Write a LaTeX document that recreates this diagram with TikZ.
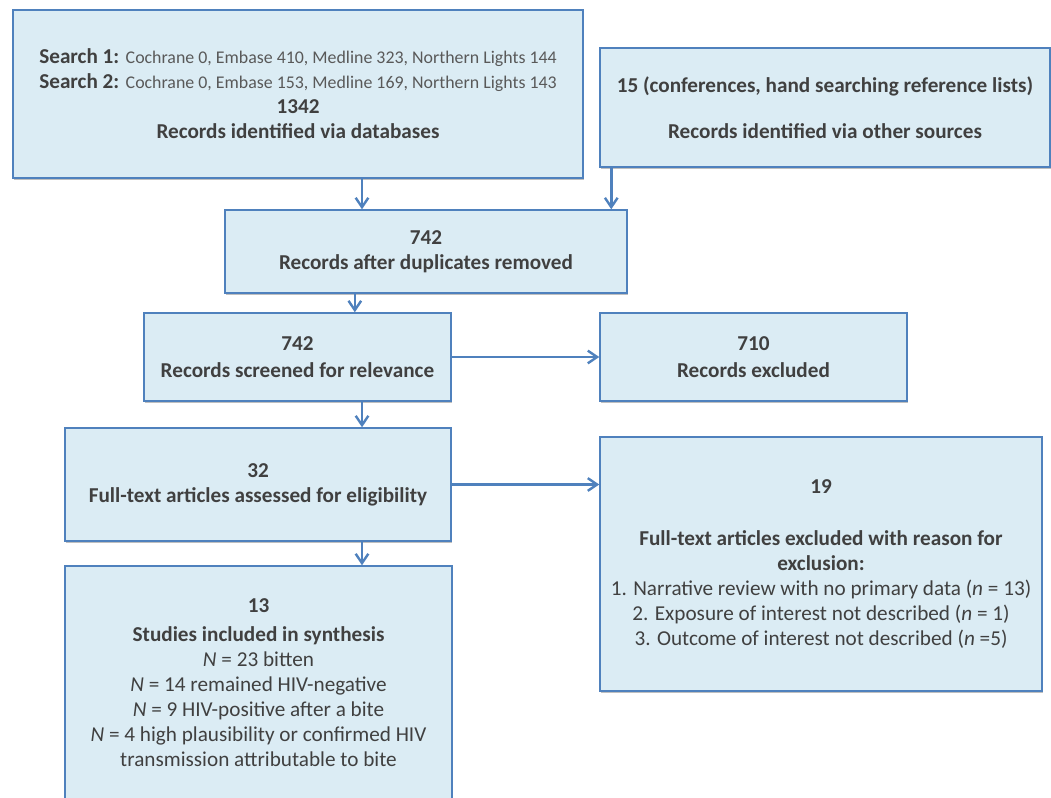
\documentclass[tikz,border=0pt]{standalone}
\usepackage{fontspec}
\setmainfont{Carlito}
\usepackage{tikz}
\usetikzlibrary{arrows.meta, shadows, calc}
\definecolor{boxfill}{RGB}{219,236,244}
\definecolor{boxline}{RGB}{79,129,189}
\definecolor{txt}{RGB}{64,64,64}
\definecolor{txtlight}{RGB}{89,89,89}
\tikzset{>={Straight Barb[length=7pt, width=9.5pt, line width=1.8pt]}}
\tikzset{
  flowbox/.style={draw=boxline, fill=boxfill, line width=1.1pt, align=center,
    text=txt, inner sep=0pt,
    font=\fontsize{15.9}{18.75}\selectfont,
    drop shadow={shadow xshift=1pt, shadow yshift=-1.5pt, opacity=0.25, fill=black}},
  flowarr/.style={->, draw=boxline, line width=2pt}
}
\newcommand{\srch}[1]{{\color{txtlight}\fontsize{13.4}{18.75}\selectfont #1}}

\begin{document}
\begin{tikzpicture}[x=0.75pt, y=-0.75pt]
    \path[use as bounding box, clip] (0,0) rectangle (1051,798);

    % identification
    \node[flowbox, minimum width=427.5pt, minimum height=126pt] (dbs) at (298,94)
        {\textbf{Search 1:} \srch{Cochrane 0, Embase 410, Medline 323, Northern Lights 144}\\
         \textbf{Search 2:} \srch{Cochrane 0, Embase 153, Medline 169, Northern Lights 143}\\
         \textbf{1342}\\
         \textbf{Records identified via databases}};
    \node[flowbox, minimum width=337.5pt, minimum height=89.25pt] (other) at (825,107.5)
        {\textbf{15 (conferences, hand searching reference lists)}\\[15.75pt]
         \textbf{Records identified via other sources}};

    % screening
    \node[flowbox, minimum width=301.5pt, minimum height=62.25pt] (dedup) at (426,251.5)
        {\textbf{742}\\ \textbf{Records after duplicates removed}};
    \node[flowbox, minimum width=230.25pt, minimum height=66pt] (screen) at (297.5,357)
        {\textbf{742}\\[2pt] \textbf{Records screened for relevance}};
    \node[flowbox, minimum width=230.25pt, minimum height=66pt] (excl) at (753.5,357)
        {\textbf{710}\\[2pt] \textbf{Records excluded}};

    % eligibility
    \node[flowbox, minimum width=289.5pt, minimum height=84.75pt] (full) at (258,484.5)
        {\textbf{32}\\ \textbf{Full-text articles assessed for eligibility}};
    \node[flowbox, minimum width=331.5pt, minimum height=190.5pt] (fexcl) at (821,564)
        {\textbf{19}\\[20pt]
         \textbf{Full-text articles excluded with reason for}\\
         \textbf{exclusion:}\\
         1. Narrative review with no primary data (\textit{n} = 13)\\
         2. Exposure of interest not described (\textit{n} = 1)\\
         3. Outcome of interest not described (\textit{n} =5)};

    % included
    \node[flowbox, minimum width=290.25pt, minimum height=174.75pt] (incl) at (258.5,682.5)
        {\textbf{13}\\[3.5pt] \textbf{Studies included in synthesis}\\
         \textit{N} = 23 bitten\\
         \textit{N} = 14 remained HIV-negative\\
         \textit{N} = 9 HIV-positive after a bite\\
         \textit{N} = 4 high plausibility or confirmed HIV\\
         transmission attributable to bite};

    % arrows
    \draw[flowarr] ([xshift=48pt]dbs.south) coordinate (a1) -- (a1 |- dedup.north);
    \draw[flowarr] ([xshift=9pt]other.south west) coordinate (a2) -- (a2 |- dedup.north);
    \draw[flowarr] ([xshift=43pt]screen.north) coordinate (a3) (a3 |- dedup.south) -- (a3);
    \draw[flowarr] (screen.east) -- (excl.west);
    \draw[flowarr] ([xshift=48.4pt]screen.south) coordinate (a4) -- (a4 |- full.north);
    \draw[flowarr] (full.east) -- (full.east -| fexcl.west);
    \draw[flowarr] ([xshift=78pt]full.south) coordinate (a5) -- (a5 |- incl.north);
\end{tikzpicture}
\end{document}
